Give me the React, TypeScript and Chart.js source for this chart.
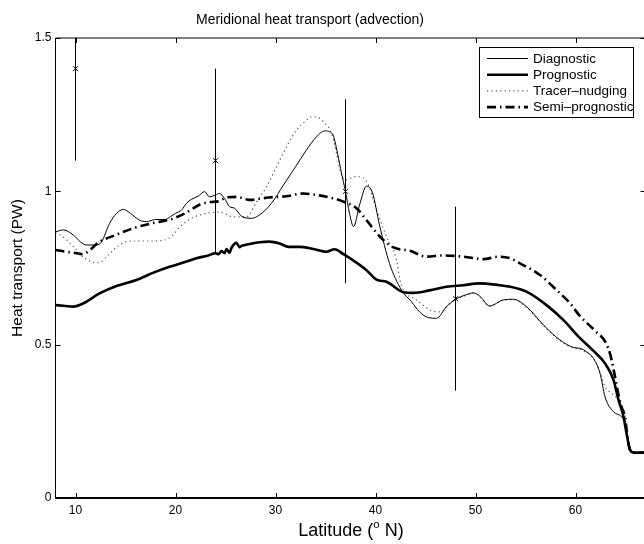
import React, { useEffect, useRef } from "react";
import { Chart, registerables } from "chart.js";

Chart.register(...registerables);

const TITLE = "Meridional heat transport (advection)";
const Y_TITLE = "Heat transport (PW)";

const xTicks = [10, 20, 30, 40, 50, 60];
const yTicks = [0, 0.5, 1, 1.5];

const diagLat = [8, 8.8, 9.8, 10.5, 11.1, 12.1, 12.6, 13.4, 14.1, 14.8, 15.5, 16.4, 17.1, 18, 19, 19.5, 20, 20.6, 21.1, 21.6, 22.3, 22.9, 23.4, 24, 24.4, 24.9, 25.4, 25.9, 26.6, 27.6, 28.4, 29.6, 30.8, 32, 33.1, 34.1, 34.9, 35.7, 36.2, 36.6, 37, 37.4, 37.8, 38.4, 39.1, 39.7, 40.4, 41.4, 42.6, 43.6, 44.4, 45.3, 46.1, 47.1, 48, 49, 49.8, 50.5, 51.4, 52.8, 53.8, 55.1, 56.8, 58.45, 59.8, 60.45, 61.1, 61.8, 62.45, 62.95, 63.8, 64.6, 64.95, 65.2, 65.45, 65.8, 67];
const diagVal = [0.868, 0.874, 0.857, 0.835, 0.825, 0.825, 0.835, 0.895, 0.928, 0.941, 0.928, 0.906, 0.901, 0.908, 0.908, 0.918, 0.928, 0.939, 0.961, 0.974, 0.985, 0.999, 0.982, 0.988, 0.993, 0.977, 0.95, 0.945, 0.919, 0.912, 0.923, 0.961, 1.021, 1.08, 1.135, 1.178, 1.197, 1.187, 1.124, 1.059, 0.999, 0.928, 0.885, 0.955, 1.017, 0.995, 0.89, 0.765, 0.678, 0.64, 0.607, 0.588, 0.586, 0.624, 0.648, 0.662, 0.669, 0.656, 0.626, 0.646, 0.648, 0.624, 0.564, 0.515, 0.491, 0.488, 0.477, 0.455, 0.407, 0.33, 0.281, 0.265, 0.243, 0.19, 0.157, 0.148, 0.15];

const progLat = [8, 9, 9.8, 10.8, 12.4, 14.1, 16.1, 17.8, 19.4, 21.1, 22.1, 23.2, 24, 24.3, 24.6, 24.9, 25.1, 25.4, 25.6, 26.1, 26.4, 26.6, 27.4, 28.4, 29.4, 30.4, 31.3, 32.4, 33.8, 35.1, 35.9, 36.8, 37.8, 39.1, 40.1, 41.1, 42.8, 43.8, 45.4, 47.1, 48.8, 50.4, 52.4, 53.5, 55.1, 57.1, 58.8, 60.4, 61.8, 62.95, 63.8, 64.3, 64.8, 65.1, 65.45, 65.8, 67];
const progVal = [0.629, 0.626, 0.624, 0.635, 0.667, 0.691, 0.711, 0.735, 0.754, 0.771, 0.782, 0.79, 0.798, 0.795, 0.805, 0.798, 0.812, 0.8, 0.816, 0.832, 0.818, 0.822, 0.828, 0.834, 0.836, 0.83, 0.819, 0.819, 0.812, 0.803, 0.811, 0.795, 0.774, 0.743, 0.712, 0.705, 0.671, 0.669, 0.677, 0.689, 0.694, 0.7, 0.694, 0.689, 0.673, 0.629, 0.58, 0.523, 0.48, 0.439, 0.385, 0.32, 0.265, 0.211, 0.157, 0.148, 0.148];

const tracLat = [8, 8.8, 9.8, 10.6, 11.45, 12.3, 13.2, 14.1, 15, 15.8, 17.4, 19, 19.8, 20.45, 21.8, 23.1, 24.4, 25.8, 27.1, 28.1, 29.1, 30.1, 31.1, 32.1, 33.1, 33.6, 34.3, 34.8, 35.6, 36.1, 36.45, 36.95, 37.45, 38.1, 38.7, 39.3, 40.1, 41.1, 42.1, 42.45, 42.8, 44.1, 45.45, 46.45, 47.45, 48, 49, 49.8, 50.5, 51.4, 52.8, 53.8, 55.1, 56.8, 58.45, 59.8, 60.45, 61.1, 61.8, 62.2, 62.6, 62.95, 63.6, 64.3, 64.6, 64.95, 65.2, 65.45, 65.8, 67];
const tracVal = [0.865, 0.85, 0.819, 0.79, 0.772, 0.767, 0.79, 0.818, 0.835, 0.838, 0.838, 0.842, 0.86, 0.885, 0.915, 0.928, 0.932, 0.917, 0.917, 0.965, 1.015, 1.08, 1.145, 1.2, 1.232, 1.243, 1.24, 1.227, 1.189, 1.124, 1.069, 1.037, 1.042, 1.048, 1.045, 1.02, 0.939, 0.852, 0.776, 0.711, 0.678, 0.646, 0.613, 0.607, 0.635, 0.648, 0.66, 0.668, 0.655, 0.626, 0.645, 0.647, 0.622, 0.562, 0.513, 0.489, 0.485, 0.475, 0.455, 0.43, 0.396, 0.363, 0.341, 0.32, 0.298, 0.265, 0.2, 0.157, 0.148, 0.148];

const semiLat = [8, 9, 9.8, 10.7, 11.5, 12.2, 14.2, 16, 17.7, 19.45, 21, 22.5, 23.5, 24.3, 25.1, 26.1, 27.45, 29.3, 31.1, 32.8, 34.1, 35.8, 36.8, 38.1, 39.1, 40.45, 41.8, 43.45, 45.1, 46.8, 48.8, 50.8, 52.3, 53.45, 54.45, 56.45, 58.3, 59.45, 60.4, 62, 63, 63.5, 63.95, 64.3, 64.6, 64.95, 65.2, 65.45, 65.8, 67];
const semiVal = [0.809, 0.803, 0.8, 0.795, 0.81, 0.831, 0.86, 0.882, 0.896, 0.908, 0.929, 0.958, 0.965, 0.968, 0.98, 0.982, 0.972, 0.98, 0.984, 0.993, 0.988, 0.977, 0.966, 0.945, 0.906, 0.852, 0.817, 0.806, 0.787, 0.791, 0.787, 0.779, 0.787, 0.782, 0.765, 0.727, 0.672, 0.635, 0.595, 0.544, 0.508, 0.465, 0.396, 0.336, 0.298, 0.265, 0.2, 0.157, 0.148, 0.148];

const obsLat = [10, 24, 37, 48];
const obsVal = [1.4, 1.1, 1.0, 0.65];
const obsErr = [0.3, 0.3, 0.3, 0.3];

const FONT = "'Liberation Sans', Arial, Helvetica, sans-serif";

const pts = (xs: number[], ys: number[]) => xs.map((x, i) => ({ x, y: ys[i] }));

const overlayPlugin = {
  id: "overlay",
  afterDraw(chart: any) {
    const { ctx, chartArea: a, scales } = chart;
    const xs = scales.x;
    const ys = scales.y;
    ctx.save();
    ctx.strokeStyle = "#000";
    ctx.lineWidth = 1;
    ctx.beginPath();
    ctx.moveTo(a.left, a.bottom);
    ctx.lineTo(a.left, a.top);
    ctx.lineTo(a.right, a.top);
    ctx.lineTo(a.right, a.bottom);
    ctx.stroke();
    ctx.lineWidth = 2;
    ctx.beginPath();
    ctx.moveTo(a.left, a.bottom);
    ctx.lineTo(a.right, a.bottom);
    ctx.stroke();
    ctx.lineWidth = 1;
    const tl = 5;
    ctx.beginPath();
    xTicks.forEach((v) => {
      const px = Math.round(xs.getPixelForValue(v)) + 0.5;
      ctx.moveTo(px, a.bottom);
      ctx.lineTo(px, a.bottom - tl);
      ctx.moveTo(px, a.top);
      ctx.lineTo(px, a.top + tl);
    });
    yTicks.forEach((v) => {
      const py = Math.round(ys.getPixelForValue(v)) + 0.5;
      ctx.moveTo(a.left, py);
      ctx.lineTo(a.left + tl, py);
      ctx.moveTo(a.right, py);
      ctx.lineTo(a.right - tl, py);
    });
    ctx.stroke();

    ctx.fillStyle = "#000";
    ctx.font = `14px ${FONT}`;
    ctx.textAlign = "center";
    ctx.textBaseline = "middle";
    ctx.fillText(TITLE, 310, 20);

    // x-axis title with superscript
    const f1 = `18px ${FONT}`;
    const f2 = `11.5px ${FONT}`;
    const p1 = "Latitude (";
    const p2 = "o";
    const p3 = " N)";
    ctx.font = f1;
    const w1 = ctx.measureText(p1).width;
    const w3 = ctx.measureText(p3).width;
    ctx.font = f2;
    const w2 = ctx.measureText(p2).width;
    const total = w1 + w2 + w3;
    let sx = 351 - total / 2;
    ctx.textAlign = "left";
    ctx.textBaseline = "alphabetic";
    ctx.font = f1;
    ctx.fillText(p1, sx, 536);
    sx += w1;
    ctx.font = f2;
    ctx.fillText(p2, sx, 528);
    sx += w2;
    ctx.font = f1;
    ctx.fillText(p3, sx, 536);

    // legend
    const bx = 479.5, by = 47.5, bw = 154, bh = 70;
    ctx.fillStyle = "#fff";
    ctx.fillRect(bx, by, bw, bh);
    ctx.strokeStyle = "#000";
    ctx.lineWidth = 1;
    ctx.setLineDash([]);
    ctx.strokeRect(bx, by, bw, bh);
    const items = chart.data.datasets.filter((d: any) => d.inLegend);
    items.forEach((d: any, i: number) => {
      const cy = 58.5 + i * 16.2;
      ctx.save();
      ctx.strokeStyle = d.borderColor;
      ctx.lineWidth = d.borderWidth;
      ctx.setLineDash(d.borderDash || []);
      ctx.beginPath();
      ctx.moveTo(487, cy);
      ctx.lineTo(528, cy);
      ctx.stroke();
      ctx.restore();
      ctx.fillStyle = "#000";
      ctx.font = `13.5px ${FONT}`;
      ctx.textAlign = "left";
      ctx.textBaseline = "middle";
      ctx.fillText(d.label, 533, cy + 0.5);
    });
    ctx.restore();
  },
};

export default function App() {
  const ref = useRef<HTMLCanvasElement | null>(null);
  useEffect(() => {
    if (!ref.current) return;
    const lineBase = {
      pointRadius: 0,
      fill: false,
      clip: 0,
      cubicInterpolationMode: "monotone" as const,
      inLegend: true,
    };
    const datasets: any[] = [
      { ...lineBase, label: "Diagnostic", data: pts(diagLat, diagVal), borderColor: "#000", borderWidth: 1, borderDash: [] },
      { ...lineBase, label: "Prognostic", data: pts(progLat, progVal), borderColor: "#000", borderWidth: 2.6, borderDash: [] },
      { ...lineBase, label: "Tracer\u2013nudging", data: pts(tracLat, tracVal), borderColor: "#555", borderWidth: 1.2, borderDash: [1.2, 3.2] },
      { ...lineBase, label: "Semi\u2013prognostic", data: pts(semiLat, semiVal), borderColor: "#000", borderWidth: 2.6, borderDash: [9, 4, 1.5, 4] },
    ];
    obsLat.forEach((lat, i) => {
      datasets.push({
        label: "obs-bar-" + i,
        data: [
          { x: lat, y: obsVal[i] - obsErr[i] },
          { x: lat, y: obsVal[i] + obsErr[i] },
        ],
        borderColor: "#000",
        borderWidth: 1,
        pointRadius: 0,
        fill: false,
        clip: 0,
      });
    });
    datasets.push({
      label: "obs",
      type: "scatter",
      data: pts(obsLat, obsVal),
      pointStyle: "crossRot",
      pointRadius: 3.5,
      borderColor: "#000",
      borderWidth: 1,
      showLine: false,
    });

    const chart = new Chart(ref.current, {
      type: "line",
      data: { datasets },
      plugins: [overlayPlugin],
      options: {
        animation: false,
        responsive: false,
        events: [],
        layout: { autoPadding: false, padding: { top: 38, right: 0.5, left: 0, bottom: 0 } },
        plugins: { legend: { display: false }, tooltip: { enabled: false }, title: { display: false } },
        scales: {
          x: {
            type: "linear",
            min: 8,
            max: 67,
            grid: { display: false, drawTicks: false },
            border: { display: false },
            afterBuildTicks: (s: any) => {
              s.ticks = xTicks.map((v) => ({ value: v }));
            },
            afterFit: (s: any) => {
              s.height = 46;
            },
            ticks: {
              padding: 5,
              maxRotation: 0,
              color: "#000",
              font: { family: FONT, size: 12 },
              callback: (v: any) => String(v),
            },
            title: { display: false },
          },
          y: {
            type: "linear",
            min: 0,
            max: 1.5,
            grid: { display: false, drawTicks: false },
            border: { display: false },
            afterBuildTicks: (s: any) => {
              s.ticks = yTicks.map((v) => ({ value: v }));
            },
            afterFit: (s: any) => {
              s.width = 55.5;
            },
            ticks: {
              padding: 4,
              color: "#000",
              font: { family: FONT, size: 12 },
              callback: (v: any) => String(v),
            },
            title: {
              display: true,
              text: Y_TITLE,
              color: "#000",
              font: { family: FONT, size: 15.5 },
              padding: { top: 8, bottom: 0 },
            },
          },
        },
      } as any,
    });
    return () => chart.destroy();
  }, []);

  return (
    <div style={{ position: "absolute", left: 0, top: 0, width: 644, height: 544, overflow: "hidden", background: "#fff" }}>
      <canvas ref={ref} width={646} height={544} style={{ display: "block" }} />
    </div>
  );
}
